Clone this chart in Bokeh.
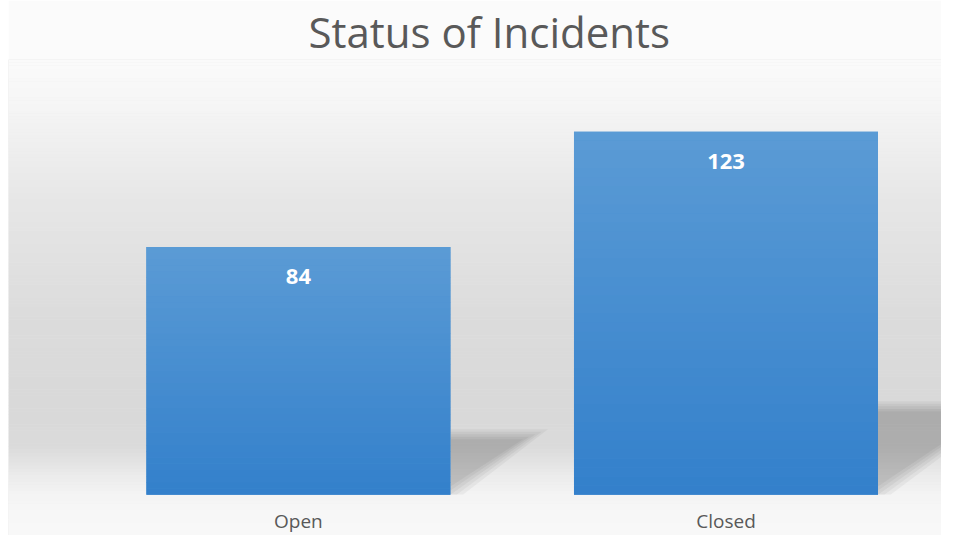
import numpy as np
from bokeh.plotting import figure
from bokeh.models import Range1d, ColumnDataSource
from bokeh.core.properties import value
from bokeh.embed import file_html
from bokeh.resources import INLINE

# ---- data ----
title_text = "Status of Incidents"
categories = ["Open", "Closed"]
counts = [84, 123]

# ---- layout ----
W, H = 933, 535
TOP = 56
X0, X1 = -0.678, 1.504
Y0, Y1 = -13.8, 147.5
BAR_W = 0.711

p = figure(width=W, height=H, output_backend="svg", toolbar_location=None,
           x_range=Range1d(X0, X1), y_range=Range1d(Y0, Y1),
           min_border_left=0, min_border_right=0, min_border_top=TOP, min_border_bottom=0)
p.margin = (0, 0, 0, 8)
p.title.text = title_text
p.title.text_font = "Open Sans"
p.title.text_font_style = "normal"
p.title.text_font_size = "42px"
p.title.text_color = "#595959"
p.title.align = "left"
p.title.offset = 300
p.title.standoff = 0
p.border_fill_color = "#fbfbfb"
p.background_fill_color = "#e6e6e6"
p.outline_line_color = None
p.grid.visible = False
p.xaxis.visible = False
p.yaxis.visible = False

frame_w = W
frame_h = H - TOP
px = (X1 - X0) / frame_w
py = (Y1 - Y0) / frame_h

# background gradient (data y -> gray level)
stops_y = [Y0, -5, 0, 5, 12, 16, 30, 60, 100, 132, Y1]
stops_g = [249, 247, 244, 238, 226, 219, 217, 220, 231, 246, 251]
NB = 150
edges = np.linspace(Y0, Y1, NB + 1)
mids = (edges[:-1] + edges[1:]) / 2
gvals = np.interp(mids, stops_y, stops_g)
bg_colors = ["#%02x%02x%02x" % (int(g), int(g), int(g)) for g in gvals]
p.quad(left=X0, right=X1, bottom=edges[:-1], top=edges[1:] + 0.3 * py,
       fill_color=bg_colors, line_color=None)

# shadows
xs, ys, alphas = [], [], []
for i, v in enumerate(counts):
    xr = i + BAR_W / 2
    h = 0.244 * v
    w = 0.00237 * v
    for e in [-5, -2.5, 0, 2.5, 5]:
        top = h + e * py
        s = 2.5 * e * px
        xs.append([xr, xr, xr + w + s, xr + s])
        ys.append([0, top, top, 0])
        alphas.append(0.045)
p.patches(xs=xs, ys=ys, fill_color="black", fill_alpha=alphas, line_color=None)

# cover shadow below baseline with background
below = edges[:-1] < 0
p.quad(left=X0, right=X1, bottom=edges[:-1][below], top=np.minimum(edges[1:][below] + 0.3 * py, 0),
       fill_color=[c for c, b in zip(bg_colors, below) if b], line_color=None)

# bars
xpos = list(range(len(categories)))
src = ColumnDataSource(dict(x=xpos, top=counts, label=[str(c) for c in counts],
                            cat=categories, zero=[0] * len(categories)))
p.vbar(x="x", top="top", width=BAR_W, bottom=0, source=src,
       fill_color="#4890d2", line_color=None)

# gradient overlay on bars
NS = 40
top_c = np.array([0x5b, 0x9b, 0xd5])
bot_c = np.array([0x33, 0x80, 0xcb])
L, R, B, T, C = [], [], [], [], []
for i, v in enumerate(counts):
    for k in range(NS):
        y0 = v * k / NS
        y1 = v * (k + 1) / NS
        f = (k + 0.5) / NS
        c = bot_c + (top_c - bot_c) * f
        L.append(i - BAR_W / 2)
        R.append(i + BAR_W / 2)
        B.append(y0)
        T.append(min(v, y1 + 0.3 * py))
        C.append("#%02x%02x%02x" % tuple(int(round(t)) for t in c))
p.quad(left=L, right=R, bottom=B, top=T, fill_color=C, line_color=None)

# data labels
p.text(x="x", y="top", text="label", source=src, text_color="white",
       text_font=value("Open Sans"), text_font_style="bold", text_font_size="22px",
       text_align="center", text_baseline="middle", y_offset=30)

# category labels
p.text(x="x", y="zero", text="cat", source=src, text_color="#595959",
       text_font=value("Open Sans"), text_font_size="19px",
       text_align="center", text_baseline="middle", y_offset=26)

open("out.html", "w").write(file_html(p, INLINE))
